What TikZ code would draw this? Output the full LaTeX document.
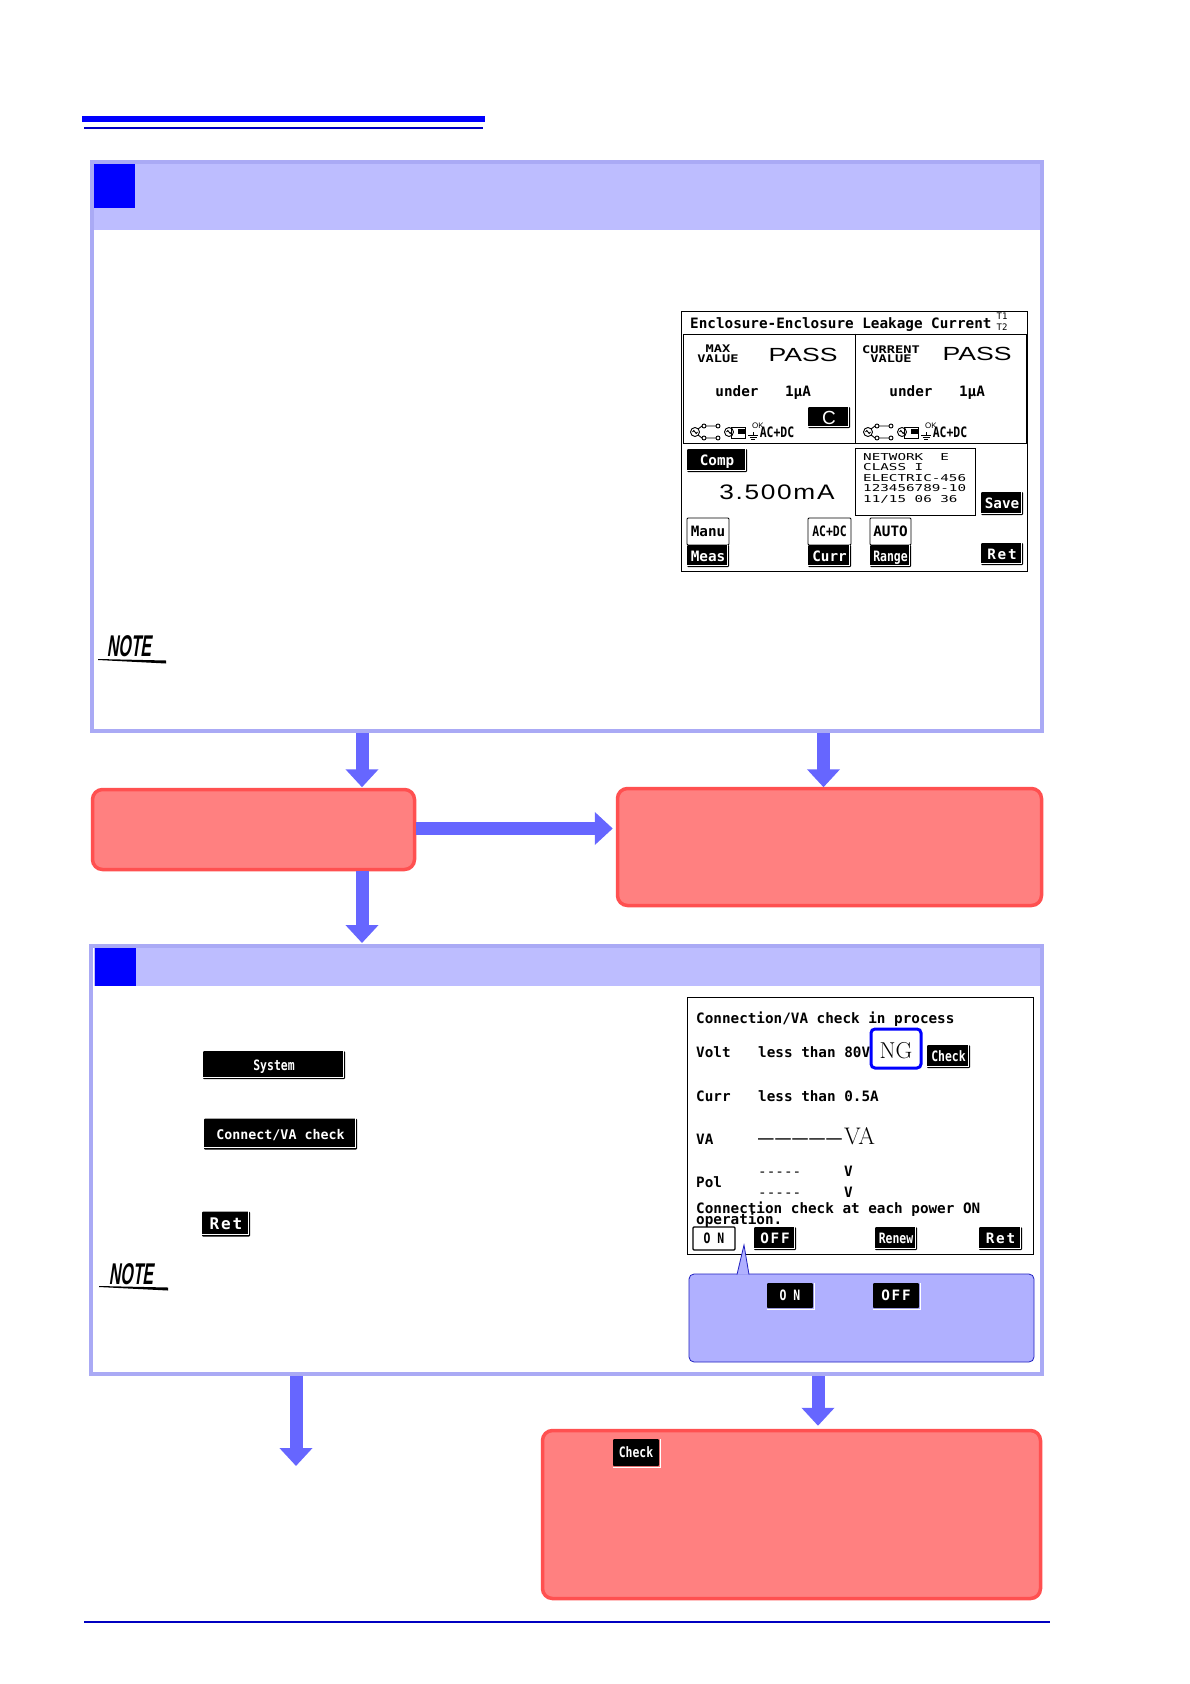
\documentclass[tikz,border=0pt]{standalone}
\usepackage{fontspec}
\usetikzlibrary{arrows.meta}
\setmonofont{DejaVu Sans Mono}
\setsansfont{Liberation Sans}
\newfontfamily\widefont{Liberation Sans}[FakeStretch=1.4]
\newfontfamily\spacedfont{Liberation Sans}[FakeStretch=1.25,LetterSpace=8]
\newfontfamily\narrowfont{DejaVu Sans Mono}[FakeStretch=.8]
\newfontfamily\infofont{DejaVu Sans Mono}[FakeStretch=1.5]
\newfontfamily\smallfont{DejaVu Sans Mono}[FakeStretch=1.3]
\newfontfamily\keyfont{DejaVu Sans Mono}[LetterSpace=12]
\newfontfamily\notefont{Liberation Sans}[FakeStretch=.53,FakeSlant=.15]
\newcommand{\lcd}{\ttfamily\bfseries\fontsize{14.3}{12}\selectfont}
\newcommand{\lcdn}{\narrowfont\bfseries\fontsize{14.3}{12}\selectfont}
\newcommand{\lcdk}{\keyfont\bfseries\fontsize{14.3}{12}\selectfont}
\definecolor{framecol}{HTML}{AAAAF5}
\definecolor{headcol}{HTML}{BDBDFF}
\definecolor{arrowcol}{HTML}{6666FF}
\definecolor{redfill}{HTML}{FF8080}
\definecolor{redline}{HTML}{FF5050}
\definecolor{bluecol}{HTML}{0000FF}
\definecolor{rulecol}{HTML}{0000C0}
\definecolor{callfill}{HTML}{B0B0FF}
\definecolor{callline}{HTML}{2020C0}
\begin{document}
\begin{tikzpicture}[x=1pt, y=-1pt,
	frame/.style={draw=framecol, line width=4pt, fill=white, inner sep=0pt},
	head/.style={fill=headcol, inner sep=0pt},
	square/.style={fill=bluecol, inner sep=0pt},
	redbox/.style={draw=redline, line width=3.5pt, fill=redfill, rounded corners=10pt, inner sep=0pt},
	bigarrow/.style={draw=arrowcol, line width=13pt, -{Triangle[width=32pt,length=18pt]}, arrowcol},
	screen/.style={draw=black, line width=.9pt, fill=white, inner sep=0pt},
	txt/.style={anchor=base west, inner sep=0pt, font=\lcd},
	mid/.style={anchor=base, inner sep=0pt, font=\lcd},
	pass/.style={anchor=base, inner sep=0pt, font=\widefont\fontsize{19}{19}\selectfont},
	small/.style={anchor=base, inner sep=0pt, font=\smallfont\bfseries\fontsize{10.5}{9}\selectfont},
	info/.style={anchor=base west, inner sep=0pt, font=\infofont\fontsize{9.5}{11}\selectfont},
	btn/.style={fill=black, text=white, font=\lcd, inner sep=0pt, rounded corners=1pt, text height=10pt, text depth=0pt},
	nbtn/.style={btn, font=\lcdn},
	kbtn/.style={btn, font=\lcdk},
	wbtn/.style={btn, draw=black, line width=.9pt, fill=white, text=black},
	note/.style={inner sep=0pt, font=\notefont\bfseries\fontsize{30}{30}\selectfont}]
\useasboundingbox (0,0) rectangle (1190,1684);
\fill[bluecol] (82,116) rectangle (485,122);
\fill[rulecol] (84,127) rectangle (483,129);
\fill[rulecol] (84,1621) rectangle (1050,1623);

% step one
\node[frame, minimum width=950, minimum height=569] (stepone) at (567,446.5) {};
\node[head, minimum width=946, minimum height=66] (headone) at (567,197) {};
\node[square, minimum width=41, minimum height=44] (squareone) at (114.5,186) {};
\node[note] (noteone) at (129,646) {NOTE};
\fill (98,659) -- (166,660.5) -- (166,663.5) -- (98,660) -- cycle;

% leakage current screen
\node[screen, minimum width=346, minimum height=260] (leakscreen) at (854,441) {};
\node[txt] (leaktitle) at (690,328) {Enclosure-Enclosure Leakage Current};
\node[inner sep=0pt, align=center, font=\ttfamily\fontsize{9}{11}\selectfont] (leakterm) at (1002,322) {T1\\T2};
\node[screen, minimum width=343, minimum height=109] (panel) at (854.5,388.5) {};
\draw[line width=.9pt] ([xshift=1pt]panel.north) -- ([xshift=1pt]panel.south);
\node[small] (maxa) at (718,352) {MAX};
\node[small] (maxb) at (718,362) {VALUE};
\node[small] (cura) at (891,353) {CURRENT};
\node[small] (curb) at (891,362) {VALUE};
\node[pass] (passa) at (803,361) {PASS};
\node[pass] (passb) at (977,360) {PASS};
\node[mid] (undera) at (737,396) {under};
\node[mid] (underb) at (911,396) {under};
\node[mid] (uampa) at (798,396) {1µA};
\node[mid] (uampb) at (972,396) {1µA};
\foreach \ox in {695,868} {
	\begin{scope}[shift={(\ox,432)}, line width=.9pt]
		\draw (0,0) circle (4.5pt) (-2.5,0) sin (-1.2,-1.5) cos (0,0) sin (1.2,1.5) cos (2.5,0);
		\draw (3,-3) -- (7,-6) (11,-6) -- (21,-6) (3,3) -- (7,6) (11,6) -- (21,6);
		\draw (9,-6) circle (2pt) (23,-6) circle (2pt) (9,6) circle (2pt) (23,6) circle (2pt);
		\draw (34,0) circle (4.5pt) (31.5,0) sin (32.8,-1.5) cos (34,0) sin (35.2,1.5) cos (36.5,0);
		\draw (36,-5) rectangle (50,6);
		\fill (43,-3) rectangle (51,2);
		\draw (58,0) -- (58,3) (53,3) -- (63,3) (54.5,5) -- (61.5,5) (56,7) -- (60,7);
		\node[inner sep=0pt, font=\sffamily\fontsize{8}{8}\selectfont] (ok\ox) at (63,-6) {OK};
		\node[anchor=base, inner sep=0pt, font=\lcdn] (ac\ox) at (82,5) {AC+DC};
	\end{scope}
}
\node[btn, font=\sffamily\fontsize{19}{19}\selectfont, text height=13pt, minimum width=42, minimum height=21] (cbtn) at (829,417.5) {C};
\node[btn, minimum width=60, minimum height=23] (compbtn) at (717,460.5) {Comp};
\node[anchor=base, inner sep=0pt, font=\spacedfont\fontsize{21}{21}\selectfont] (limit) at (777,499) {3.500mA};
\node[screen, minimum width=120, minimum height=67] (infobox) at (915,481.5) {};
\foreach \t [count=\i] in {NETWORK~~E, CLASS~I, ELECTRIC-456, 123456789-10, 11/15~06~36}
	\node[info] (info\i) at (863,449.5+10.6*\i) {\t};
\node[btn, minimum width=42, minimum height=23] (savebtn) at (1002,503.5) {Save};
\node[wbtn, minimum width=42, minimum height=27] (manubtn) at (708,531.5) {Manu};
\node[btn, minimum width=42, minimum height=22] (measbtn) at (708,556) {Meas};
\node[wbtn, nbtn, text=black, fill=white, draw=black, minimum width=43, minimum height=27] (acdcbtn) at (829.5,531.5) {AC+DC};
\node[btn, minimum width=43, minimum height=22] (currbtn) at (829.5,556) {Curr};
\node[wbtn, minimum width=41, minimum height=27] (autobtn) at (890.5,531.5) {AUTO};
\node[nbtn, minimum width=41, minimum height=22] (rangebtn) at (890.5,556) {Range};
\node[kbtn, minimum width=42, minimum height=22] (retone) at (1002,554) {Ret};

% results after step one
\node[redbox, minimum width=322, minimum height=80] (redleft) at (253.5,829.5) {};
\node[redbox, minimum width=424, minimum height=117] (redright) at (829.5,847) {};
\coordinate (acol) at (362,0);
\coordinate (bcol) at (823.5,0);

% step two
\node[frame, minimum width=951, minimum height=428] (steptwo) at (566.5,1160) {};
\node[head, minimum width=946, minimum height=38] (headtwo) at (567,967) {};
\node[square, minimum width=41, minimum height=38] (squaretwo) at (115,967) {};
\node[btn, font=\lcdn, minimum width=142, minimum height=28] (sysbtn) at (274,1065) {System};
\node[btn, font=\ttfamily\bfseries\fontsize{13.3}{12}\selectfont, minimum width=153, minimum height=31] (connbtn) at (280.5,1134) {Connect/VA check};
\node[kbtn, font=\keyfont\bfseries\fontsize{16}{12}\selectfont, minimum width=48, minimum height=25] (rettwo) at (226,1224) {Ret};
\node[note] (notetwo) at (131,1274) {NOTE};
\fill (99,1286) -- (168,1287.5) -- (168,1290.5) -- (99,1287) -- cycle;

% connection check screen
\node[screen, minimum width=346, minimum height=257] (connscreen) at (860,1125.5) {};
\node[txt] (conntitle) at (696,1023) {Connection/VA check in process};
\node[txt] (volt) at (696,1057) {Volt};
\node[txt] (voltlim) at (758,1057) {less than 80V};
\node[draw=bluecol, line width=3pt, rounded corners=4pt, minimum width=50, minimum height=39, inner sep=0pt, fill=white] (ngbox) at (896,1048.5) {};
\node[anchor=base, inner sep=0pt, font=\fontsize{23}{23}\selectfont] (ngtext) at (896,1058) {NG};
\node[nbtn, minimum width=43, minimum height=23] (checkbtn) at (948.5,1056.5) {Check};
\node[txt] (curr) at (696,1101) {Curr};
\node[txt] (currlim) at (758,1101) {less than 0.5A};
\node[txt] (va) at (696,1144) {VA};
\node[anchor=base west, inner sep=0pt, font=\widefont\fontsize{20}{21}\selectfont] (vadash) at (758,1144) {–\kern1.5pt–\kern1.5pt–\kern1.5pt–\kern1.5pt–};
\node[anchor=base west, inner sep=0pt, font=\fontsize{24}{24}\selectfont] (vaunit) at (844,1144) {VA};
\node[txt] (pol) at (696,1187) {Pol};
\node[txt, font=\ttfamily\fontsize{14.3}{12}\selectfont] (pola) at (758,1176) {-----};
\node[txt, font=\ttfamily\fontsize{14.3}{12}\selectfont] (polb) at (758,1197) {-----};
\node[txt] (volta) at (844,1176) {V};
\node[txt] (voltb) at (844,1197) {V};
\node[txt] (conna) at (696,1213) {Connection check at each power ON};
\node[txt] (connb) at (696,1224.5) {operation.};
\node[wbtn, nbtn, text=black, fill=white, draw=black, line width=1.2pt, minimum width=42, minimum height=23] (onbtn) at (714,1238.5) {O N};
\node[kbtn, minimum width=42, minimum height=23] (offbtn) at (775,1238.5) {OFF};
\node[nbtn, minimum width=42, minimum height=23] (renewbtn) at (896,1238.5) {Renew};
\node[kbtn, minimum width=43, minimum height=23] (retscreen) at (1000.5,1238.5) {Ret};

% callout under the screen
\node[draw=callline, line width=.8pt, fill=callfill, rounded corners=5pt, minimum width=345, minimum height=88, inner sep=0pt] (callout) at (861.5,1318) {};
\coordinate (tip) at (744,1245);
\draw[draw=callline, line width=.8pt, fill=callfill] (737,1274.5) -- (tip) -- (749,1274.5);
\node[nbtn, minimum width=46, minimum height=25] (onkey) at (790,1295.5) {O N};
\node[kbtn, minimum width=46, minimum height=25] (offkey) at (896,1295.5) {OFF};

% result after step two
\node[redbox, minimum width=498, minimum height=168] (redbottom) at (791.5,1514.5) {};
\node[nbtn, minimum width=46, minimum height=27] (checkkey) at (636,1452.5) {Check};

% edges of the keys
\foreach \b in {cbtn,compbtn,savebtn,measbtn,currbtn,rangebtn,retone,sysbtn,connbtn,rettwo,checkbtn,offbtn,renewbtn,retscreen}
	\draw[white, line width=.8pt] ([xshift=-2pt]\b.north east) -- ([xshift=-2pt,yshift=2pt]\b.south east) -- ([yshift=2pt]\b.south west);
\foreach \b in {onkey,offkey,checkkey}
	\draw[white, line width=.8pt] ([xshift=1pt]\b.north east) -- ([xshift=1pt,yshift=-1pt]\b.south east) -- ([yshift=-1pt]\b.south west);

% arrows
\coordinate (ccol) at (296,0);
\coordinate (dcol) at (818,0);
\coordinate (cend) at (296,1466);
\draw[bigarrow] (stepone.south -| acol) -- ([yshift=.5pt]redleft.north -| acol);
\draw[bigarrow] (stepone.south -| bcol) -- ([yshift=-.5pt]redright.north -| bcol);
\draw[bigarrow] ([yshift=1pt]redleft.east) -- ([xshift=-3pt,yshift=1pt]redright.west |- redleft.east);
\draw[bigarrow] (redleft.south -| acol) -- ([yshift=1pt]steptwo.north -| acol);
\draw[bigarrow] (steptwo.south -| ccol) -- (cend);
\draw[bigarrow] (steptwo.south -| dcol) -- ([yshift=3pt]redbottom.north -| dcol);
\end{tikzpicture}
\end{document}
